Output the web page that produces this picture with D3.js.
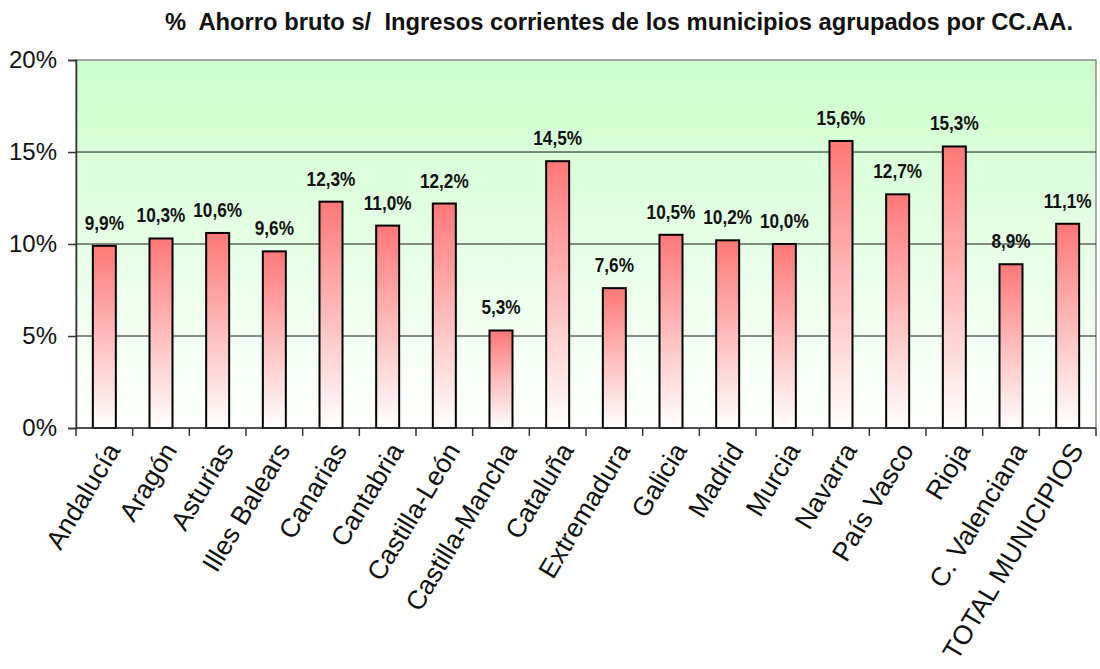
<!DOCTYPE html>
<html>
<head>
<meta charset="utf-8">
<script src="https://cdn.jsdelivr.net/npm/d3@7"></script>
<style>
  body { margin: 0; background: #fff; }
  svg { display: block; }
</style>
</head>
<body>
<script>
const regions = ['Andalucía', 'Aragón', 'Asturias', 'Illes Balears', 'Canarias', 'Cantabria',
    'Castilla-León', 'Castilla-Mancha', 'Cataluña', 'Extremadura', 'Galicia', 'Madrid',
    'Murcia', 'Navarra', 'País Vasco', 'Rioja', 'C. Valenciana', 'TOTAL MUNICIPIOS'];
const ahorro = [9.9, 10.3, 10.6, 9.6, 12.3, 11.0, 12.2, 5.3, 14.5, 7.6, 10.5, 10.2, 10.0, 15.6, 12.7, 15.3, 8.9, 11.1];
const yTicks = [0, 5, 10, 15, 20];
const title = '%  Ahorro bruto s/  Ingresos corrientes de los municipios agrupados por CC.AA.';

const width = 1100;
const height = 669;
const margin = { top: 60, right: 4, bottom: 241, left: 76 };
const sans = '"Liberation Sans", Arial, sans-serif';

const svg = d3.select('body')
    .append('svg')
    .attr('width', width)
    .attr('height', height);

const defs = svg.append('defs');
const bg = defs.append('linearGradient').attr('id', 'bg').attr('x1', 0).attr('y1', 0).attr('x2', 0).attr('y2', 1);
bg.append('stop').attr('offset', '0%').attr('stop-color', '#ccffcc');
bg.append('stop').attr('offset', '100%').attr('stop-color', '#ffffff');
const barGrad = defs.append('linearGradient').attr('id', 'bar').attr('x1', 0).attr('y1', 0).attr('x2', 0).attr('y2', 1);
barGrad.append('stop').attr('offset', '0%').attr('stop-color', '#ff7878');
barGrad.append('stop').attr('offset', '100%').attr('stop-color', '#ffffff');

const x = d3.scaleBand()
    .domain(regions)
    .range([margin.left, width - margin.right])
    .paddingInner(0)
    .paddingOuter(0);

const y = d3.scaleLinear()
    .domain([0, 20])
    .range([height - margin.bottom, margin.top]);

// plot area
svg.append('rect')
    .attr('x', margin.left)
    .attr('y', margin.top)
    .attr('width', width - margin.right - margin.left)
    .attr('height', y(0) - margin.top)
    .attr('fill', 'url(#bg)')
    .attr('stroke', '#8c8c8c')
    .attr('stroke-width', 1.5);

// gridlines
svg.append('g')
    .selectAll('line')
    .data(yTicks.filter(t => t > 0 && t < 20))
    .enter()
    .append('line')
    .attr('x1', margin.left)
    .attr('x2', width - margin.right)
    .attr('y1', d => y(d))
    .attr('y2', d => y(d))
    .attr('stroke', '#1a1a1a')
    .attr('stroke-width', 1.2);

// bars
svg.append('g')
    .selectAll('rect')
    .data(ahorro)
    .enter()
    .append('rect')
    .attr('x', (d, i) => x(regions[i]) + x.bandwidth() / 2 - 11.5)
    .attr('y', d => y(d))
    .attr('width', 23)
    .attr('height', d => y(0) - y(d))
    .attr('fill', 'url(#bar)')
    .attr('stroke', '#000')
    .attr('stroke-width', 2);

// value labels (narrowed bold)
svg.append('g')
    .selectAll('text')
    .data(ahorro)
    .enter()
    .append('text')
    .attr('transform', (d, i) => `translate(${x(regions[i]) + x.bandwidth() / 2},${y(d) - 16}) scale(0.84,1)`)
    .attr('text-anchor', 'middle')
    .attr('font-family', sans)
    .attr('font-weight', 'bold')
    .attr('font-size', 20.5)
    .attr('fill', '#111')
    .text(d => d.toFixed(1).replace('.', ',') + '%');

// y axis
const yAxis = svg.append('g')
    .attr('transform', `translate(${margin.left},0)`)
    .call(d3.axisLeft(y).tickValues(yTicks).tickFormat(d => d + '%').tickSize(8).tickPadding(11));
yAxis.select('.domain').attr('stroke', '#333').attr('stroke-width', 1.5);
yAxis.selectAll('.tick line').attr('stroke', '#333').attr('stroke-width', 1.5);
yAxis.selectAll('text')
    .attr('font-family', sans)
    .attr('font-size', 24)
    .attr('fill', '#111');

// x axis: ticks between categories
const bounds = regions.map(r => x(r)).concat([x.range()[1]]);
svg.append('line')
    .attr('x1', margin.left)
    .attr('x2', width - margin.right)
    .attr('y1', y(0))
    .attr('y2', y(0))
    .attr('stroke', '#333')
    .attr('stroke-width', 1.5);
svg.append('g')
    .selectAll('line')
    .data(bounds)
    .enter()
    .append('line')
    .attr('x1', d => d)
    .attr('x2', d => d)
    .attr('y1', y(0))
    .attr('y2', y(0) + 8)
    .attr('stroke', '#333')
    .attr('stroke-width', 1.5);

svg.append('g')
    .selectAll('text')
    .data(regions)
    .enter()
    .append('text')
    .attr('transform', d => `translate(${x(d) + x.bandwidth() / 2 + 5},${y(0) + 15}) rotate(-59)`)
    .attr('text-anchor', 'end')
    .attr('dy', '0.52em')
    .attr('font-family', sans)
    .attr('font-size', 26.5)
    .attr('fill', '#111')
    .text(d => d);

// title
svg.append('text')
    .attr('x', 165)
    .attr('y', 30)
    .attr('textLength', 908)
    .attr('lengthAdjust', 'spacingAndGlyphs')
    .attr('font-family', sans)
    .attr('font-weight', 'bold')
    .attr('font-size', 24)
    .attr('fill', '#111')
    .style('white-space', 'pre')
    .text(title);
</script>
</body>
</html>
